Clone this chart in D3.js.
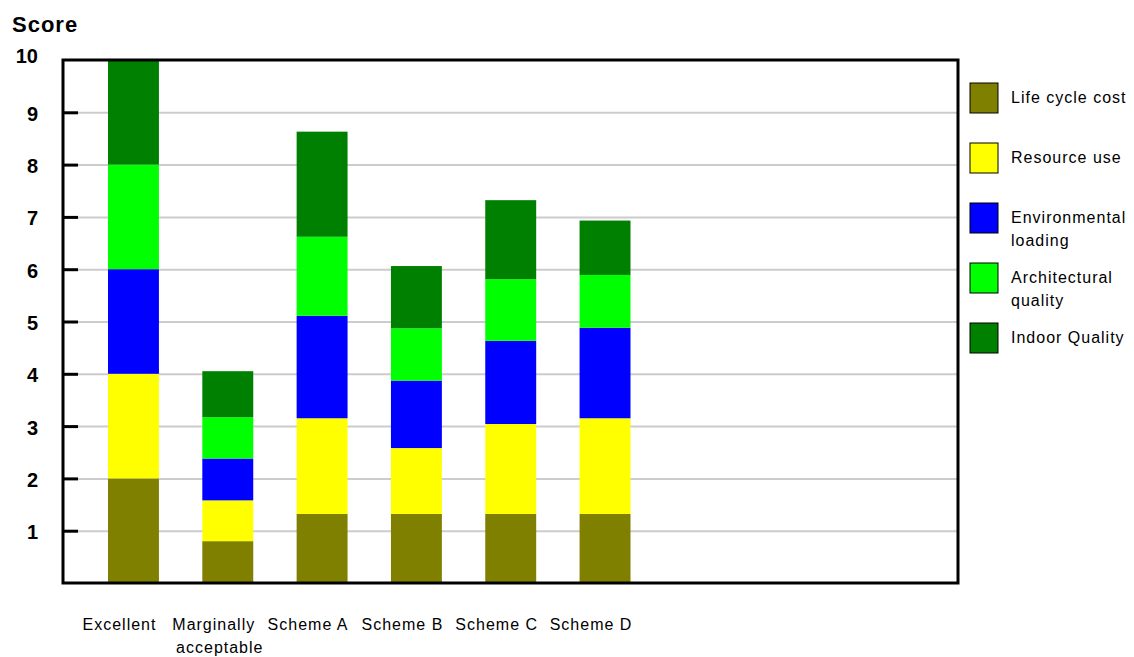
<!DOCTYPE html>
<html>
<head>
<meta charset="utf-8">
<script src="https://cdn.jsdelivr.net/npm/d3@7"></script>
<style>
  body { margin: 0; background: #fff; }
  text { font-family: "Liberation Sans", Arial, sans-serif; }
</style>
</head>
<body>
<svg id="chart" width="1134" height="657"></svg>
<script>
// categories and stacked series
var categories = ["Excellent", "Marginally acceptable", "Scheme A", "Scheme B", "Scheme C", "Scheme D"];
var seriesNames = ["Life cycle cost", "Resource use", "Environmental loading", "Architectural quality", "Indoor Quality"];
var lifeCycleCost      = [2, 0.8, 1.32, 1.32, 1.32, 1.32];
var resourceUse        = [2, 0.78, 1.83, 1.26, 1.72, 1.83];
var environmentalLoad  = [2, 0.8, 1.96, 1.29, 1.59, 1.73];
var architectural      = [2, 0.79, 1.51, 1.0, 1.18, 1.01];
var indoorQuality      = [2, 0.88, 2.01, 1.19, 1.51, 1.04];
var yTicks = [1, 2, 3, 4, 5, 6, 7, 8, 9, 10];
var colors = ["#808000", "#ffff00", "#0000ff", "#00ff00", "#008000"];

var allSeries = [lifeCycleCost, resourceUse, environmentalLoad, architectural, indoorQuality];

// build rows for d3.stack
var rows = categories.map(function(c, i) {
    var r = { cat: c };
    seriesNames.forEach(function(s, j) { r[s] = allSeries[j][i]; });
    return r;
});

var svg = d3.select("#chart");
var pLeft = 63, pRight = 958, pTop = 60, pBottom = 583;

var y = d3.scaleLinear().domain([0, 10]).range([pBottom, pTop]);
var x = d3.scaleBand()
    .domain(categories)
    .range([108, 630.5])
    .paddingInner(0.46)
    .paddingOuter(0);

// gridlines
svg.append("g")
    .attr("transform", "translate(" + pLeft + ",0)")
    .call(d3.axisRight(y).tickValues(yTicks.slice(0, 9)).tickSize(pRight - pLeft).tickFormat(""))
    .call(function(g) {
        g.select(".domain").remove();
        g.selectAll("line").attr("stroke", "#cccccc").attr("stroke-width", 2);
    });

// stacked bars
var stack = d3.stack().keys(seriesNames);
var layers = svg.append("g").selectAll("g")
    .data(stack(rows))
    .enter().append("g")
    .attr("fill", function(d, i) { return colors[i]; });

layers.selectAll("rect")
    .data(function(d) { return d; })
    .enter().append("rect")
    .attr("x", function(d) { return x(d.data.cat); })
    .attr("width", x.bandwidth())
    .attr("y", function(d) { return y(d[1]); })
    .attr("height", function(d) { return y(d[0]) - y(d[1]); });

// short black ticks pointing inward
svg.append("g")
    .attr("transform", "translate(" + pLeft + ",0)")
    .call(d3.axisRight(y).tickValues(yTicks.slice(0, 9)).tickSize(15).tickFormat(""))
    .call(function(g) {
        g.select(".domain").remove();
        g.selectAll("line").attr("stroke", "#000").attr("stroke-width", 3);
    });

// frame
svg.append("rect")
    .attr("x", pLeft).attr("y", pTop)
    .attr("width", pRight - pLeft).attr("height", pBottom - pTop)
    .attr("fill", "none").attr("stroke", "#000").attr("stroke-width", 3);

// y tick labels
svg.append("g")
    .attr("transform", "translate(38,0)")
    .call(d3.axisLeft(y).tickValues(yTicks).tickSize(0).tickPadding(0))
    .call(function(g) {
        g.select(".domain").remove();
        g.selectAll("text")
            .attr("font-family", "Liberation Sans, Arial, sans-serif")
            .attr("font-size", 20)
            .attr("font-weight", "bold")
            .attr("fill", "#000")
            .attr("dy", function(d) { return d === 10 ? "0.1em" : "0.4em"; });
    });

// y title
svg.append("text")
    .attr("x", 12).attr("y", 32)
    .attr("font-size", 22).attr("font-weight", "bold")
    .attr("letter-spacing", 1)
    .text("Score");

// x labels
var xl = svg.append("g").selectAll("text")
    .data(categories)
    .enter().append("text")
    .attr("x", function(d) { return x(d) + x.bandwidth() / 2 - 14; })
    .attr("y", 630)
    .attr("font-size", 16)
    .attr("letter-spacing", 1)
    .attr("text-anchor", "middle");
xl.each(function(d) {
    var t = d3.select(this);
    if (d === "Marginally acceptable") {
        t.append("tspan").text("Marginally");
        t.append("tspan").attr("x", x(d) + x.bandwidth() / 2 - 8).attr("dy", 23).text("acceptable");
    } else {
        t.text(d);
    }
});

// legend
var legendLines = [["Life cycle cost"], ["Resource use"], ["Environmental", "loading"], ["Architectural", "quality"], ["Indoor Quality"]];
var lg = svg.append("g").selectAll("g")
    .data(seriesNames)
    .enter().append("g")
    .attr("transform", function(d, i) { return "translate(970," + (83 + i * 60) + ")"; });

lg.append("rect")
    .attr("width", 28).attr("height", 30)
    .attr("fill", function(d, i) { return colors[i]; })
    .attr("stroke", "#000").attr("stroke-width", 1);

lg.append("text")
    .attr("x", 41).attr("y", 20)
    .attr("font-size", 16)
    .attr("letter-spacing", 1)
    .each(function(d, i) {
        var t = d3.select(this);
        legendLines[i].forEach(function(line, k) {
            t.append("tspan").attr("x", 41).attr("dy", k === 0 ? 0 : 23).text(line);
        });
    });
</script>
</body>
</html>
